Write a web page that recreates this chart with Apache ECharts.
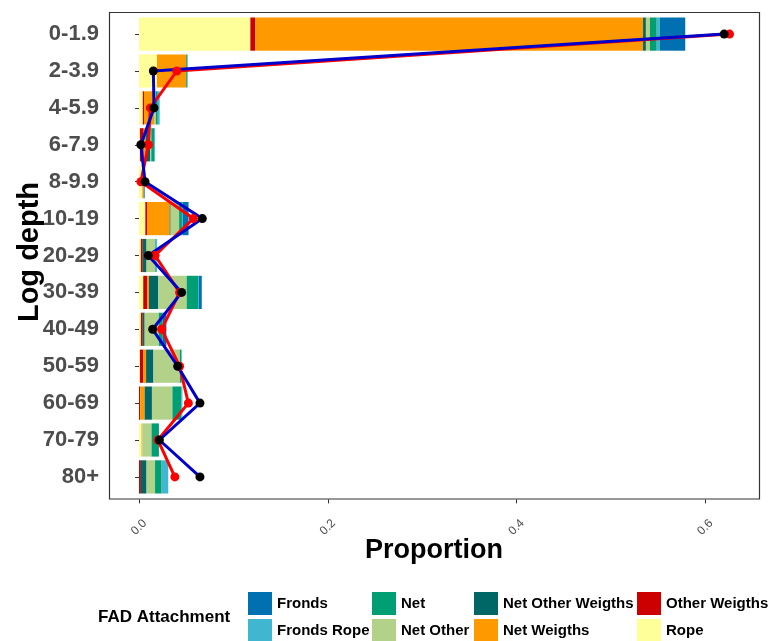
<!DOCTYPE html>
<html>
<head>
<meta charset="utf-8">
<script src="https://cdn.jsdelivr.net/npm/echarts@6/dist/echarts.min.js"></script>
<style>
html,body{margin:0;padding:0;background:#fff;}
#chart{width:769px;height:641px;}
</style>
</head>
<body>
<div id="chart"></div>
<script>
// ---- data ----
const categories = ['0-1.9','2-3.9','4-5.9','6-7.9','8-9.9','10-19','20-29','30-39','40-49','50-59','60-69','70-79','80+'];
const xTicks = [0, 0.2, 0.4, 0.6];

// stacked from left to right
const rope            = [0.118, 0.019, 0.004, 0.001, 0.0035, 0.0067, 0.002, 0.0045, 0.002, 0.001, 0.000, 0.0027, 0.000];
const otherWeigths    = [0.0052, 0.000, 0.0013, 0.004, 0.000, 0.0018, 0.002, 0.004, 0.002, 0.0035, 0.0013, 0.000, 0.002];
const netWeigths      = [0.4109, 0.031, 0.0106, 0.002, 0.0015, 0.024, 0.000, 0.002, 0.000, 0.003, 0.0047, 0.0007, 0.000];
const netOtherWeigths = [0.003, 0.000, 0.000, 0.005, 0.000, 0.001, 0.004, 0.010, 0.002, 0.0078, 0.0077, 0.000, 0.006];
const netOther        = [0.0043, 0.000, 0.002, 0.001, 0.000, 0.009, 0.009, 0.030, 0.015, 0.028, 0.0217, 0.0099, 0.009];
const net             = [0.0072, 0.0014, 0.002, 0.003, 0.000, 0.003, 0.000, 0.012, 0.004, 0.0018, 0.0093, 0.0078, 0.007];
const frondsRope      = [0.0034, 0.000, 0.002, 0.001, 0.000, 0.001, 0.002, 0.001, 0.000, 0.000, 0.0013, 0.000, 0.007];
const fronds          = [0.0268, 0.000, 0.000, 0.000, 0.001, 0.006, 0.000, 0.003, 0.004, 0.000, 0.000, 0.000, 0.000];

const redLine  = [0.6257, 0.040, 0.012, 0.010, 0.002, 0.0576, 0.017, 0.043, 0.024, 0.043, 0.0523, 0.020, 0.038];
const blueLine = [0.620, 0.0152, 0.0159, 0.002, 0.0064, 0.0671, 0.0099, 0.0452, 0.0145, 0.041, 0.0646, 0.0216, 0.0646];

// ---- styling ----
const FONT = "'Liberation Sans', Arial, sans-serif";
const stackDefs = [
  ['Rope', rope, '#FFFF99'],
  ['Other Weigths', otherWeigths, '#CC0000'],
  ['Net Weigths', netWeigths, '#FF9900'],
  ['Net Other Weigths', netOtherWeigths, '#006666'],
  ['Net Other', netOther, '#B2D28A'],
  ['Net', net, '#009E73'],
  ['Fronds Rope', frondsRope, '#41B6D0'],
  ['Fronds', fronds, '#0070B0']
];

const series = stackDefs.map(([name, data, color]) => ({
  name, type: 'bar', stack: 'total', data, barWidth: '90%',
  itemStyle: { color }, emphasis: { disabled: true }
}));
series.push({
  name: 'red', type: 'line', data: redLine, symbol: 'circle', symbolSize: 9,
  lineStyle: { color: '#FF0000', width: 3 }, itemStyle: { color: '#FF0000' }
});
series.push({
  name: 'blue', type: 'line', data: blueLine, symbol: 'circle', symbolSize: 9,
  lineStyle: { color: '#0000CC', width: 3 }, itemStyle: { color: '#000000' }
});

const legendCols = [
  { left: 248, data: ['Fronds', 'Fronds Rope'] },
  { left: 372, data: ['Net', 'Net Other'] },
  { left: 474, data: ['Net Other Weigths', 'Net Weigths'] },
  { left: 637, data: ['Other Weigths', 'Rope'] }
];

const chart = echarts.init(document.getElementById('chart'), null, { renderer: 'canvas' });
chart.setOption({
  animation: false,
  backgroundColor: '#ffffff',
  grid: { left: 139, right: 9, top: 15.65, bottom: 145.65, containLabel: false },
  xAxis: {
    type: 'value', min: 0, max: 0.658,
    offset: 4,
    axisLine: { show: false },
    splitLine: { show: false },
    axisTick: { show: true, length: 4, lineStyle: { color: '#333', width: 1 }, customValues: xTicks },
    axisLabel: {
      customValues: xTicks,
      formatter: v => v.toFixed(1),
      rotate: 45, align: 'center', verticalAlign: 'middle', margin: 28,
      color: '#4d4d4d', fontSize: 12, fontFamily: FONT
    }
  },
  yAxis: {
    type: 'category', data: categories, inverse: true,
    offset: 30,
    axisLine: { show: false },
    axisTick: { show: true, alignWithLabel: true, length: 4, lineStyle: { color: '#333', width: 1 } },
    axisLabel: { color: '#4d4d4d', fontSize: 22, fontWeight: 'bold', fontFamily: FONT, margin: 10 },
    splitLine: { show: false }
  },
  legend: legendCols.map(c => ({
    orient: 'vertical', left: c.left, top: 592, height: 80, padding: 0,
    itemWidth: 24, itemHeight: 23, itemGap: 4, icon: 'rect',
    selectedMode: false, data: c.data,
    textStyle: { color: '#000', fontSize: 15, fontWeight: 'bold', fontFamily: FONT }
  })),
  graphic: [
    { type: 'rect', silent: true, z: 100,
      shape: { x: 109.5, y: 12.5, width: 650, height: 486.5 },
      style: { fill: 'none', stroke: '#333', lineWidth: 1.2 } },
    { type: 'text', x: 434, y: 551, silent: true,
      style: { text: 'Proportion', textAlign: 'center', textVerticalAlign: 'middle',
               font: "bold 27px 'Liberation Sans', Arial, sans-serif", fill: '#000' } },
    { type: 'text', x: 30, y: 252, rotation: Math.PI / 2, silent: true,
      style: { text: 'Log depth', textAlign: 'center', textVerticalAlign: 'middle',
               font: "bold 29px 'Liberation Sans', Arial, sans-serif", fill: '#000' } },
    { type: 'text', x: 98, y: 617, silent: true,
      style: { text: 'FAD Attachment', textAlign: 'left', textVerticalAlign: 'middle',
               font: "bold 17px 'Liberation Sans', Arial, sans-serif", fill: '#000' } }
  ],
  series
});
</script>
</body>
</html>
